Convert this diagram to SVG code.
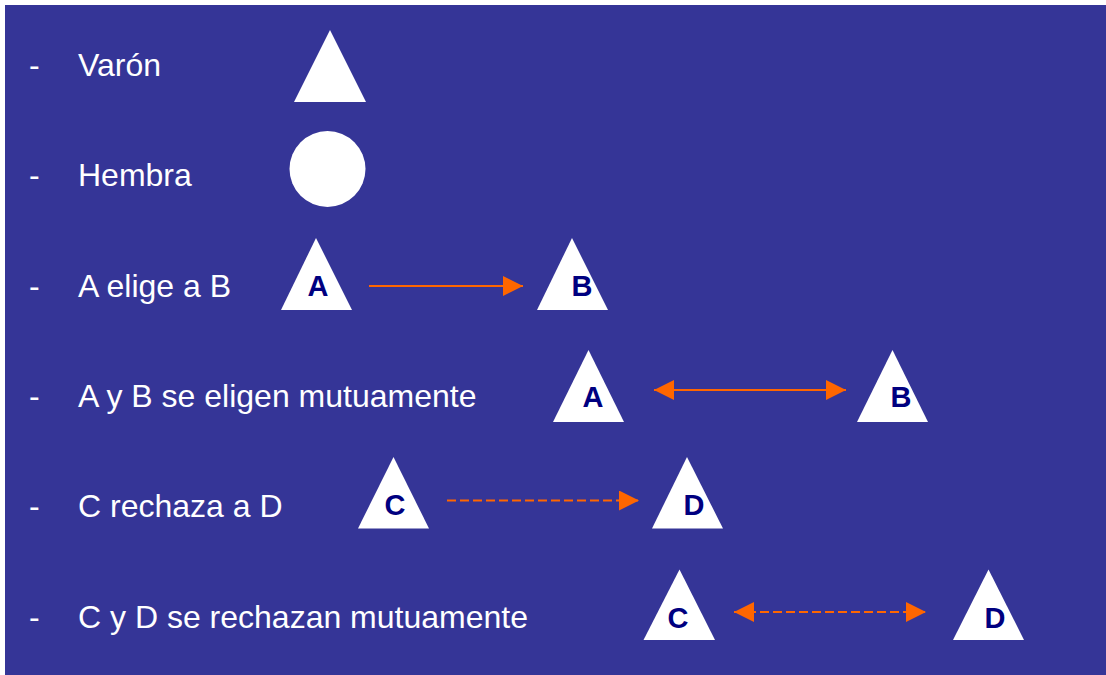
<svg xmlns="http://www.w3.org/2000/svg" width="1106" height="675" viewBox="0 0 1106 675">
<style>
.lbl{font-family:"Liberation Sans",Arial,sans-serif;font-size:32px;fill:#ffffff}
.sym{fill:#ffffff}
.let{font-family:"Liberation Sans",Arial,sans-serif;font-size:29px;font-weight:bold;fill:#000080;text-anchor:middle}
.ln{stroke:#ff6600;stroke-width:2.2;fill:none}
.dash{stroke-dasharray:9 4}
</style>
<defs>
<marker id="ah" viewBox="0 0 20 20" refX="20" refY="10" markerWidth="20" markerHeight="20" markerUnits="userSpaceOnUse" orient="auto-start-reverse">
<path d="M0,0 L20,10 L0,20 Z" fill="#ff6600"/>
</marker>
</defs>
<rect x="0" y="0" width="1106" height="675" fill="#ffffff"/>
<rect x="5" y="5" width="1101" height="670" fill="#353597"/>
<g id="labels">
<text class="lbl" x="29" y="76">-</text><text class="lbl" x="78" y="76">Varón</text>
<text class="lbl" x="29" y="186">-</text><text class="lbl" x="78" y="186">Hembra</text>
<text class="lbl" x="29" y="297">-</text><text class="lbl" x="78" y="297">A elige a B</text>
<text class="lbl" x="29" y="407">-</text><text class="lbl" x="78" y="407">A y B se eligen mutuamente</text>
<text class="lbl" x="29" y="517">-</text><text class="lbl" x="78" y="517">C rechaza a D</text>
<text class="lbl" x="29" y="628">-</text><text class="lbl" x="78" y="628">C y D se rechazan mutuamente</text>
</g>
<g id="varon"><polygon class="sym" points="330,30 294,102 366,102"/></g>
<g id="hembra"><circle class="sym" cx="327.5" cy="169" r="38"/></g>
<g id="r3-A"><polygon class="sym" points="316,238 281,310 352,310"/><text class="let" x="318" y="296">A</text></g>
<g id="r3-B"><polygon class="sym" points="572,238 537,310 608,310"/><text class="let" x="582" y="296">B</text></g>
<g id="r4-A"><polygon class="sym" points="588.5,350 553,422 624,422"/><text class="let" x="593" y="407">A</text></g>
<g id="r4-B"><polygon class="sym" points="892.5,350 857,422 928,422"/><text class="let" x="901" y="407">B</text></g>
<g id="r5-C"><polygon class="sym" points="393.5,457 358,528.5 429,528.5"/><text class="let" x="395" y="515">C</text></g>
<g id="r5-D"><polygon class="sym" points="687,457 652,528.5 723,528.5"/><text class="let" x="694" y="515">D</text></g>
<g id="r6-C"><polygon class="sym" points="679.5,569.5 643.5,640 715,640"/><text class="let" x="678" y="628">C</text></g>
<g id="r6-D"><polygon class="sym" points="988.5,569.5 953,640 1024,640"/><text class="let" x="995" y="628">D</text></g>
<g id="connectors">
<line class="ln" x1="369" y1="286" x2="523" y2="286" marker-end="url(#ah)"/>
<line class="ln" x1="654" y1="390" x2="846" y2="390" marker-start="url(#ah)" marker-end="url(#ah)"/>
<line class="ln dash" x1="447" y1="500.5" x2="639" y2="500.5" marker-end="url(#ah)"/>
<line class="ln dash" x1="734" y1="612" x2="926" y2="612" marker-start="url(#ah)" marker-end="url(#ah)"/>
</g>
</svg>
